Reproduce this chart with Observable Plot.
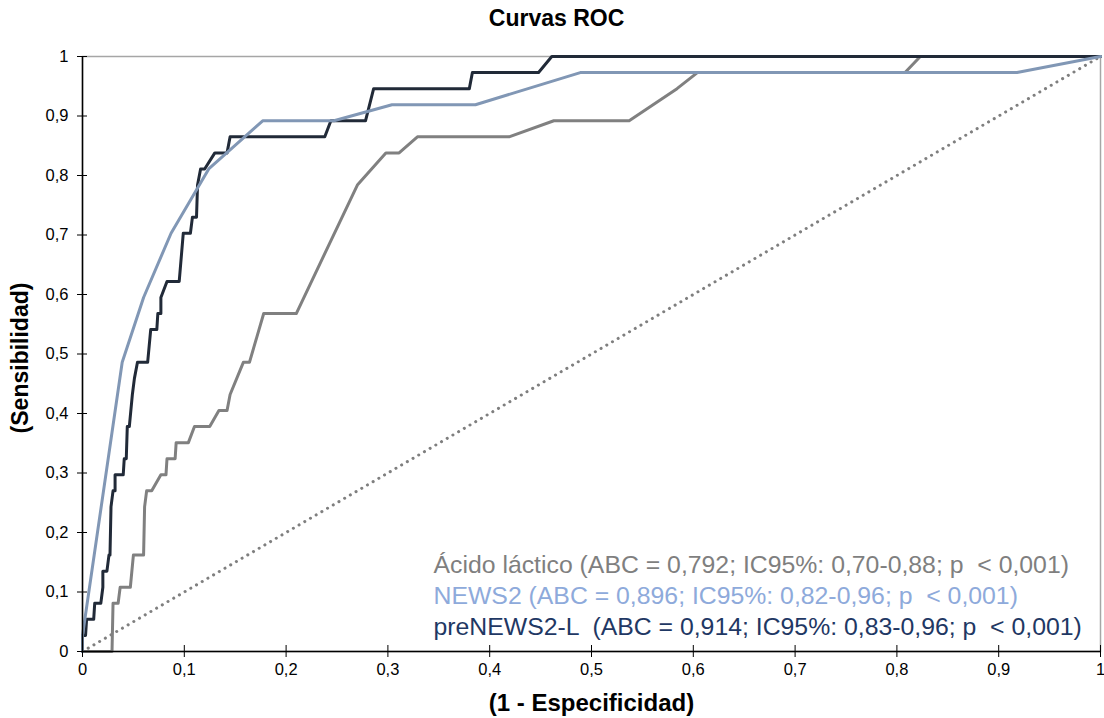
<!DOCTYPE html>
<html>
<head>
<meta charset="utf-8">
<script src="https://cdn.jsdelivr.net/npm/d3@7"></script>
<script src="https://cdn.jsdelivr.net/npm/@observablehq/plot@0.6"></script>
<style>
  html, body { margin: 0; padding: 0; background: #fff; }
  svg { display: block; }
</style>
</head>
<body>
<div id="chart"></div>
<script>
// --- Data ---
const lacticoFPR = [0,0.029,0.030,0.035,0.037,0.047,0.050,0.060,0.061,0.063,0.068,0.077,0.082,0.083,0.091,0.092,0.104,0.110,0.125,0.134,0.142,0.145,0.158,0.164,0.178,0.210,0.270,0.298,0.311,0.329,0.419,0.463,0.537,0.584,0.604,0.808,0.823,1];
const lacticoTPR = [0,0,0.081,0.081,0.108,0.108,0.162,0.162,0.243,0.270,0.270,0.297,0.297,0.324,0.324,0.351,0.351,0.378,0.378,0.405,0.405,0.432,0.486,0.486,0.568,0.568,0.784,0.838,0.838,0.865,0.865,0.892,0.892,0.946,0.973,0.973,1,1];

const news2FPR = [0,0,0.039,0.060,0.087,0.124,0.177,0.247,0.304,0.386,0.489,0.918,1];
const news2TPR = [0,0.027,0.486,0.595,0.703,0.811,0.892,0.892,0.919,0.919,0.973,0.973,1];

const preNews2FPR = [0,0,0.003,0.004,0.011,0.012,0.018,0.020,0.020,0.024,0.026,0.027,0.028,0.030,0.032,0.032,0.040,0.041,0.043,0.044,0.046,0.049,0.051,0.054,0.064,0.067,0.073,0.074,0.077,0.077,0.083,0.095,0.099,0.106,0.108,0.112,0.113,0.116,0.120,0.130,0.142,0.145,0.238,0.244,0.278,0.286,0.380,0.383,0.448,0.461,1];
const preNews2TPR = [0,0.027,0.027,0.054,0.054,0.081,0.081,0.108,0.135,0.135,0.162,0.162,0.243,0.270,0.270,0.297,0.297,0.324,0.324,0.378,0.378,0.432,0.459,0.486,0.486,0.541,0.541,0.568,0.568,0.595,0.622,0.622,0.703,0.703,0.730,0.730,0.784,0.811,0.811,0.838,0.838,0.865,0.865,0.892,0.892,0.946,0.946,0.973,0.973,1,1];

const refLine = [0, 1];
const ticks = [0,0.1,0.2,0.3,0.4,0.5,0.6,0.7,0.8,0.9,1];

const legendLabels = [
  "Ácido láctico (ABC = 0,792; IC95%: 0,70-0,88; p  < 0,001)",
  "NEWS2 (ABC = 0,896; IC95%: 0,82-0,96; p  < 0,001)",
  "preNEWS2-L  (ABC = 0,914; IC95%: 0,83-0,96; p  < 0,001)"
];
const legendColors = ["#7f7f7f", "#8eaadb", "#1f3864"];

const title = "Curvas ROC";
const xTitle = "(1 - Especificidad)";
const yTitle = "(Sensibilidad)";

// --- Build tables ---
const toPts = (xs, ys) => xs.map((x, i) => ({x, y: ys[i]}));
const lactico = toPts(lacticoFPR, lacticoTPR);
const news2 = toPts(news2FPR, news2TPR);
const preNews2 = toPts(preNews2FPR, preNews2TPR);
const diag = refLine.map(v => ({x: v, y: v}));

const fmt = d => d3.format(".1~f")(d).replace(".", ",");
const FONT = "'Liberation Sans', Arial, sans-serif";

const chart = Plot.plot({
  width: 1104,
  height: 718,
  marginLeft: 82,
  marginRight: 4,
  marginTop: 56,
  marginBottom: 67,
  style: {fontFamily: FONT, fontSize: "16.5px", color: "#000", background: "#fff"},
  x: {domain: [0, 1], ticks: ticks, label: null},
  y: {domain: [0, 1], ticks: ticks, label: null},
  marks: [
    Plot.frame({stroke: "#a6a6a6", strokeWidth: 1.5}),
    Plot.line(diag, {x: "x", y: "y", stroke: "#7f7f7f", strokeWidth: 3, strokeDasharray: "0.1,6.5", strokeLinecap: "round"}),
    Plot.line(lactico, {x: "x", y: "y", stroke: "#808080", strokeWidth: 3, curve: "linear"}),
    Plot.line(preNews2, {x: "x", y: "y", stroke: "#212a38", strokeWidth: 3, curve: "linear"}),
    Plot.line(news2, {x: "x", y: "y", stroke: "#8197b5", strokeWidth: 3, curve: "linear"}),
    Plot.ruleX([0], {stroke: "#000", strokeWidth: 1.5}),
    Plot.ruleY([0], {stroke: "#000", strokeWidth: 1.5}),
    Plot.axisX({anchor: "bottom", ticks: ticks, tickFormat: fmt, tickSize: 12, dy: -6, tickPadding: 6, stroke: "#000", fontSize: 16.5, label: null}),
    Plot.axisY({anchor: "left", ticks: ticks, tickFormat: fmt, tickSize: 10, dx: 5, tickPadding: 9, stroke: "#000", fontSize: 16.5, label: null}),
    Plot.text([title], {frameAnchor: "top", lineAnchor: "middle", dy: -38, dx: -35, fontSize: 23, fontWeight: "bold", fill: "#000"}),
    Plot.text([xTitle], {frameAnchor: "bottom", lineAnchor: "middle", dy: 52, fontSize: 24, fontWeight: "bold", fill: "#000"}),
    Plot.text([yTitle], {frameAnchor: "left", textAnchor: "middle", lineAnchor: "middle", dx: -62, dy: 4, rotate: -90, fontSize: 23, fontWeight: "bold", fill: "#000"}),
    ...legendLabels.map((t, i) =>
      Plot.text([t], {frameAnchor: "bottom-left", lineAnchor: "middle", textAnchor: "start", dx: 351, dy: -86 + i * 31, fontSize: 24.8, fill: legendColors[i]})
    )
  ]
});
document.getElementById("chart").appendChild(chart);
</script>
</body>
</html>
